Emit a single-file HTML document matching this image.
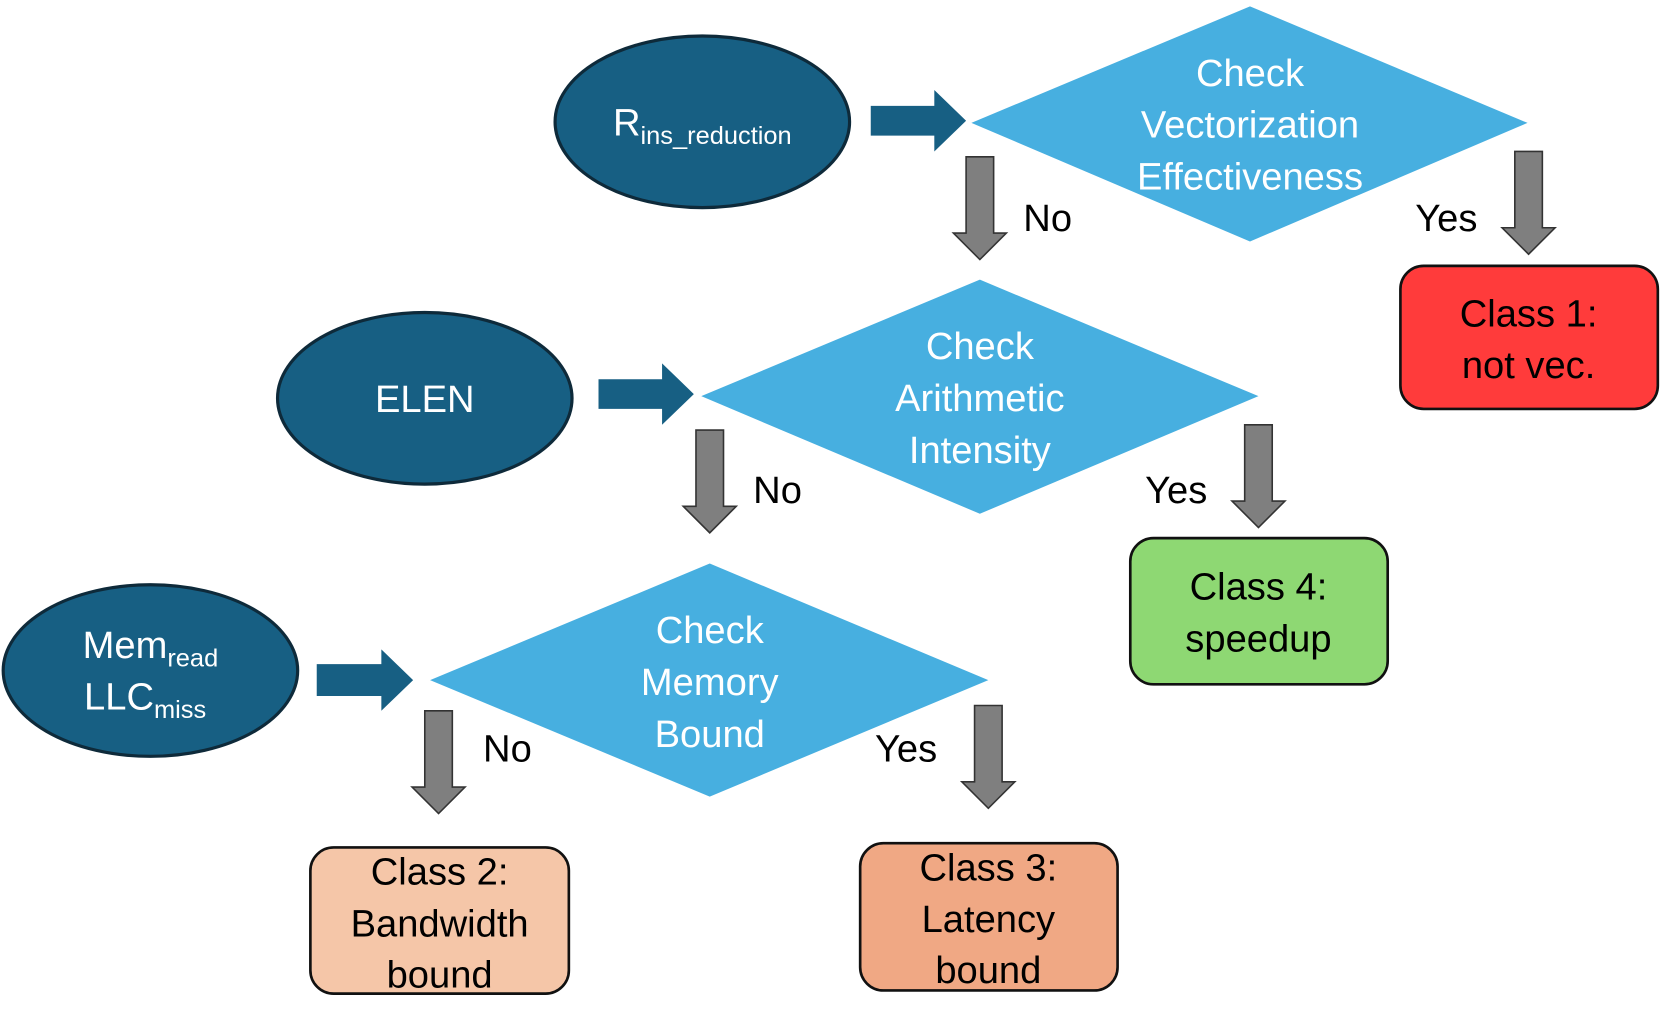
<!DOCTYPE html>
<html><head><meta charset="utf-8"><style>html,body{margin:0;padding:0;background:#fff}svg{display:block}text{font-family:"Liberation Sans",sans-serif}</style></head>
<body>
<svg width="1661" height="1027" viewBox="0 0 1568 969.5" xmlns="http://www.w3.org/2000/svg">
<defs>
<g id="gd"><polygon points="-13,0 13,0 13,72 25,72 0,97 -25,72 -13,72" fill="#7f7f7f" stroke="#333" stroke-width="1.5"/></g>
</defs>
<g fill="#175f83" stroke="#0e2a3a" stroke-width="3">
<ellipse cx="663" cy="115" rx="139" ry="81"/>
<ellipse cx="401" cy="376" rx="139" ry="81"/>
<ellipse cx="142" cy="633" rx="139" ry="81"/>
</g>
<g fill="#175f83">
<polygon points="822,100 882,100 882,85 912,114 882,143 882,128 822,128"/>
<polygon points="565,358 625,358 625,343 655,372 625,401 625,386 565,386"/>
<polygon points="299,627 360,627 360,613 390,642 360,671 360,657 299,657"/>
</g>
<g fill="#47afe0">
<polygon points="917,116 1180,6 1442,116 1180,228"/>
<polygon points="662,374 925,264 1188,374 925,485"/>
<polygon points="406,642 670,532 933,642 670,752"/>
</g>
<use href="#gd" x="925" y="148"/>
<use href="#gd" x="1443" y="143"/>
<use href="#gd" x="670" y="406"/>
<use href="#gd" x="1188" y="401"/>
<use href="#gd" x="414" y="671"/>
<use href="#gd" x="933" y="666"/>
<g stroke="#111" stroke-width="2.5">
<rect x="1322" y="251" width="243" height="135" rx="22" fill="#ff3b3b"/>
<rect x="1067" y="508" width="243" height="138" rx="22" fill="#8ed873"/>
<rect x="293" y="800" width="244" height="138" rx="22" fill="#f5c6a8"/>
<rect x="812" y="796" width="243" height="139" rx="22" fill="#f0a884"/>
</g>
<g fill="#fff" font-size="36" text-anchor="middle">
<text x="663" y="128">R<tspan font-size="24" dy="8">ins_reduction</tspan></text>
<text x="401" y="389">ELEN</text>
<text x="142" y="621">Mem<tspan font-size="24" dy="8">read</tspan></text>
<text x="137" y="670">LLC<tspan font-size="24" dy="8">miss</tspan></text>
<text x="1180" y="81">Check</text><text x="1180" y="130">Vectorization</text><text x="1180" y="179">Effectiveness</text>
<text x="925" y="339">Check</text><text x="925" y="388">Arithmetic</text><text x="925" y="437">Intensity</text>
<text x="670" y="607">Check</text><text x="670" y="656">Memory</text><text x="670" y="705">Bound</text>
</g>
<g fill="#000" font-size="36" text-anchor="middle">
<text x="1443" y="308">Class 1:</text><text x="1443" y="357">not vec.</text>
<text x="1188" y="566">Class 4:</text><text x="1188" y="615">speedup</text>
<text x="415" y="835">Class 2:</text><text x="415" y="884">Bandwidth</text><text x="415" y="932">bound</text>
<text x="933" y="831">Class 3:</text><text x="933" y="880">Latency</text><text x="933" y="928">bound</text>
</g>
<g fill="#000" font-size="36">
<text x="966" y="218">No</text><text x="1336" y="218">Yes</text>
<text x="711" y="475">No</text><text x="1081" y="475">Yes</text>
<text x="456" y="719">No</text><text x="826" y="719">Yes</text>
</g>
</svg>
</body></html>
